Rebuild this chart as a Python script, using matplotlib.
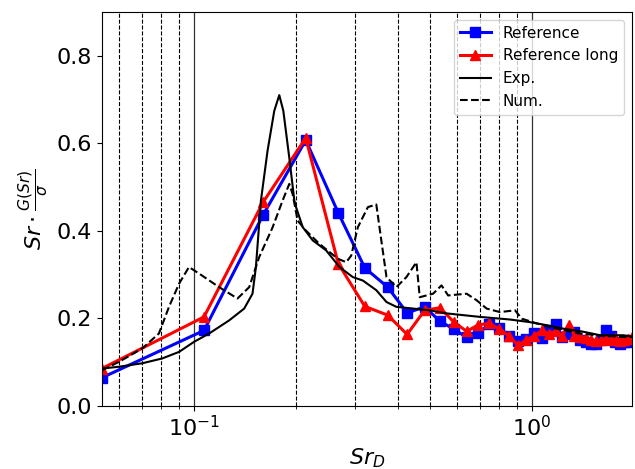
import numpy as np
import matplotlib.pyplot as plt

# Strouhal numbers of the spectral bins (same for both reference runs)
sr = [0.0534, 0.107, 0.160, 0.214, 0.267, 0.320, 0.374, 0.427, 0.481, 0.534,
      0.587, 0.641, 0.694, 0.748, 0.801, 0.854, 0.908, 0.961, 1.015, 1.068,
      1.121, 1.175, 1.228, 1.282, 1.335, 1.388, 1.442, 1.495, 1.549, 1.602,
      1.655, 1.709, 1.762, 1.816, 1.869, 1.922, 1.976]

ref = [0.064, 0.172, 0.436, 0.607, 0.441, 0.315, 0.271, 0.212, 0.226, 0.193,
       0.175, 0.156, 0.166, 0.186, 0.178, 0.160, 0.148, 0.152, 0.166, 0.155,
       0.172, 0.186, 0.158, 0.165, 0.168, 0.150, 0.146, 0.140, 0.142, 0.150,
       0.172, 0.160, 0.145, 0.142, 0.145, 0.145, 0.150]

ref_long = [0.085, 0.203, 0.465, 0.612, 0.325, 0.227, 0.207, 0.163, 0.218, 0.224,
            0.191, 0.170, 0.185, 0.188, 0.175, 0.160, 0.138, 0.150, 0.160, 0.172,
            0.165, 0.170, 0.160, 0.185, 0.160, 0.158, 0.155, 0.150, 0.148, 0.150,
            0.152, 0.150, 0.155, 0.148, 0.150, 0.152, 0.158]

# experimental spectrum
exp_x = [0.0534, 0.0599, 0.0703, 0.0805, 0.0903, 0.100, 0.1108, 0.127, 0.1407,
         0.1489, 0.1524, 0.1577, 0.165, 0.1727, 0.1787, 0.1837, 0.1913, 0.198,
         0.2003, 0.2097, 0.2244, 0.2459, 0.2693, 0.2949, 0.316, 0.3461, 0.371,
         0.3968, 0.4444, 0.4981, 0.5583, 0.701, 0.860, 0.986, 1.106, 1.239,
         1.420, 1.591, 1.866, 1.976]
exp_y = [0.085, 0.089, 0.097, 0.108, 0.123, 0.146, 0.165, 0.195, 0.222,
         0.256, 0.317, 0.469, 0.583, 0.674, 0.710, 0.674, 0.567, 0.469,
         0.454, 0.408, 0.378, 0.355, 0.317, 0.294, 0.286, 0.264, 0.237,
         0.226, 0.222, 0.218, 0.211, 0.203, 0.197, 0.191, 0.184, 0.176,
         0.169, 0.161, 0.161, 0.158]

# numerical spectrum
num_x = [0.0534, 0.0599, 0.0703, 0.0787, 0.0843, 0.0903, 0.0966, 0.1035, 0.1186,
         0.1344, 0.1456, 0.1559, 0.1708, 0.1828, 0.1913, 0.1957, 0.2025, 0.2145,
         0.2349, 0.2662, 0.2819, 0.2917, 0.3052, 0.3268, 0.3461, 0.3581, 0.371,
         0.3968, 0.4249, 0.4549, 0.4653, 0.5095, 0.5397, 0.5645, 0.6402, 0.6855,
         0.7339, 0.8035, 0.8905, 0.932, 1.033, 1.184, 1.388, 1.556, 1.866, 1.976]
num_y = [0.081, 0.100, 0.131, 0.165, 0.226, 0.279, 0.317, 0.302, 0.271,
         0.245, 0.271, 0.340, 0.408, 0.469, 0.507, 0.484, 0.423, 0.400,
         0.370, 0.336, 0.328, 0.343, 0.408, 0.454, 0.460, 0.378, 0.294,
         0.271, 0.294, 0.328, 0.248, 0.256, 0.275, 0.252, 0.256, 0.241,
         0.222, 0.214, 0.218, 0.199, 0.188, 0.176, 0.165, 0.161, 0.157, 0.157]

fig = plt.figure(figsize=(6.35, 4.69), dpi=100)
ax = fig.add_axes([0.1606, 0.135, 0.8347, 0.8394])

ax.plot(sr, ref, 'b-s', lw=2.2, ms=7, label='Reference')
ax.plot(sr, ref_long, 'r-^', lw=2.2, ms=7, label='Reference long')
ax.plot(exp_x, exp_y, 'k-', lw=1.5, label='Exp.')
ax.plot(num_x, num_y, 'k--', lw=1.5, label='Num.')

ax.set_xscale('log')
ax.set_xlim(0.0534, 1.976)
ax.set_ylim(0, 0.9)
ax.set_yticks([0.0, 0.2, 0.4, 0.6, 0.8])
ax.grid(which='major', axis='x', color='k', linestyle='-', lw=0.9, alpha=0.8)
ax.grid(which='minor', axis='x', color='k', linestyle='--', lw=0.8)

ax.tick_params(labelsize=16)
ax.set_xlabel(r'$Sr_D$', fontsize=16)
ax.set_ylabel(r'$Sr \cdot \frac{G(Sr)}{\sigma}$', fontsize=16)
ax.legend(loc='upper right', fontsize=11)

plt.savefig('out.png', dpi=100)
